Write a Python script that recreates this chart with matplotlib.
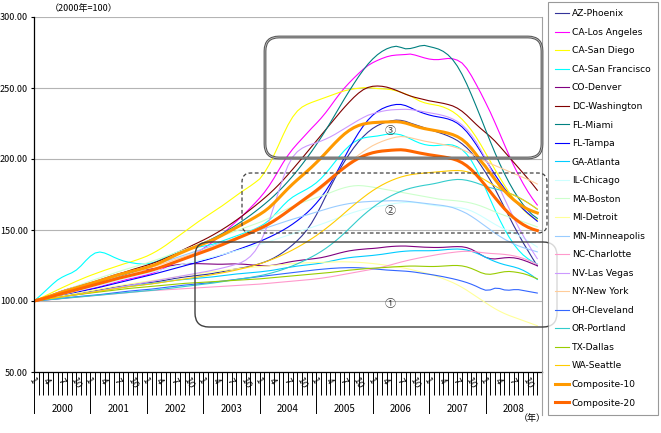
import matplotlib
matplotlib.use('Agg')
import matplotlib.pyplot as plt
import matplotlib.transforms as mtransforms
from matplotlib.patches import FancyBboxPatch
from matplotlib.lines import Line2D

plt.rcParams['font.family'] = ['Noto Sans CJK JP', 'DejaVu Sans']

# categories
years = [2000, 2001, 2002, 2003, 2004, 2005, 2006, 2007, 2008]
month_labels = ['1', '4', '7', '10']
y_ticks = [50, 100, 150, 200, 250, 300]

# monthly index values, 2000-01 = 100
az_phoenix = [
    100.0, 100.6, 101.1, 101.7, 102.3, 102.9, 103.5, 104.1, 104.6, 105.1, 105.6, 106.2,
    106.8, 107.3, 107.9, 108.5, 109.1, 109.7, 110.2, 110.7, 111.2, 111.6, 112.0, 112.4,
    112.8, 113.2, 113.6, 114.1, 114.7, 115.3, 115.9, 116.4, 116.9, 117.3, 117.7, 118.1,
    118.5, 118.9, 119.4, 120.0, 120.6, 121.3, 122.0, 122.6, 123.2, 123.8, 124.5, 125.3,
    126.3, 127.4, 128.7, 130.3, 132.2, 134.4, 136.9, 139.6, 142.6, 146.0, 150.0, 154.8,
    160.5, 166.8, 173.6, 180.2, 186.6, 192.6, 198.2, 203.3, 208.0, 212.2, 215.8, 218.9,
    221.5, 223.5, 225.0, 226.1, 226.9, 227.4, 227.2, 226.5, 225.3, 224.2, 223.1, 222.0,
    220.8, 219.8, 218.7, 217.6, 216.3, 214.8, 213.0, 210.7, 207.9, 204.4, 200.3, 195.6,
    190.5, 185.0, 179.0, 172.5, 166.0, 159.5, 153.0, 147.0, 141.0, 135.5, 130.0, 124.8,
]
ca_los_angeles = [
    100.0, 100.6, 101.3, 102.0, 102.8, 103.6, 104.4, 105.2, 105.9, 106.6, 107.3, 108.0,
    108.7, 109.4, 110.2, 111.1, 112.0, 112.9, 113.8, 114.6, 115.4, 116.1, 116.8, 117.6,
    118.4, 119.4, 120.6, 122.0, 123.6, 125.3, 127.0, 128.6, 130.1, 131.6, 133.1, 134.8,
    137.0, 139.2, 141.6, 144.2, 147.0, 150.0, 153.0, 156.0, 159.0, 162.2, 165.6, 169.0,
    172.6, 176.6, 181.2, 186.4, 192.0, 197.6, 202.6, 207.0, 210.8, 214.4, 218.0, 221.6,
    225.0, 228.6, 232.6, 237.0, 241.6, 246.0, 250.0, 253.6, 257.0, 260.2, 263.2, 265.8,
    267.8, 269.4, 270.8, 272.0, 272.8, 273.2, 273.4, 273.6, 273.9, 273.2, 272.2, 271.2,
    270.4, 270.0, 270.0, 270.4, 270.8, 270.6, 269.6, 267.6, 263.8, 258.6, 252.6, 246.4,
    239.8, 233.0, 225.6, 218.0, 210.2, 202.6, 195.4, 188.8, 182.6, 177.0, 172.0, 167.6,
]
ca_san_diego = [
    100.0, 101.4, 103.0, 104.6, 106.2, 107.8, 109.4, 110.9, 112.4, 113.9, 115.3, 116.7,
    118.0, 119.2, 120.4, 121.6, 122.7, 123.8, 124.9, 126.0, 127.0, 128.0, 129.1, 130.3,
    131.6, 133.2, 135.0, 137.0, 139.2, 141.6, 144.0, 146.4, 148.8, 151.2, 153.6, 156.0,
    158.2, 160.4, 162.6, 164.8, 167.0, 169.4, 171.8, 174.2, 176.6, 178.8, 181.0, 183.4,
    186.0, 190.4, 196.0, 202.6, 209.8, 217.2, 224.0, 229.6, 233.8, 236.6, 238.4, 239.8,
    241.0, 242.2, 243.4, 244.6, 245.8, 247.0, 248.0, 248.8, 249.4, 249.8, 250.2, 250.3,
    250.0, 249.6, 249.4, 249.2, 248.8, 248.0, 247.0, 245.8, 244.4, 242.6, 240.8, 239.6,
    238.8, 238.2, 237.6, 236.6, 235.2, 233.4, 231.0, 228.0, 224.4, 220.2, 215.4, 210.0,
    204.2, 198.4, 192.6, 187.0, 181.6, 176.6, 172.0, 168.0, 164.4, 161.2, 158.8, 157.0,
]
ca_san_francisco = [
    100.0, 102.8, 105.8, 108.9, 112.0, 114.8, 116.8, 118.4, 119.8, 121.8, 124.8, 128.4,
    131.6, 133.8, 134.5, 133.8, 132.4, 130.8, 129.4, 128.2, 127.4, 126.8, 126.3, 126.0,
    126.2, 126.8, 127.8, 129.2, 130.8, 132.4, 133.8, 135.0, 136.0, 136.8, 137.4, 138.0,
    138.6, 139.2, 140.0, 141.0, 142.2, 143.4, 144.6, 145.8, 147.0, 148.2, 149.4, 150.8,
    152.4, 154.4, 157.0, 160.2, 163.8, 167.4, 170.6, 173.2, 175.2, 177.0, 178.8, 180.8,
    183.2, 186.2, 189.8, 193.8, 198.0, 202.2, 206.0, 209.2, 211.8, 213.6, 214.8, 215.4,
    215.8, 216.2, 216.8, 217.4, 217.8, 217.6, 217.0, 215.8, 214.2, 212.6, 211.2, 210.2,
    209.6, 209.4, 209.6, 210.0, 210.2, 209.8, 208.6, 206.6, 203.4, 198.8, 193.0, 186.4,
    179.2, 171.6, 164.2, 157.2, 150.8, 145.0, 140.0, 135.8, 132.4, 129.8, 127.6, 126.0,
]
co_denver = [
    100.0, 101.0, 102.1, 103.3, 104.6, 105.9, 107.1, 108.2, 109.2, 110.1, 111.0, 111.9,
    112.8, 113.8, 114.9, 116.0, 117.1, 118.2, 119.2, 120.0, 120.6, 121.1, 121.5, 121.9,
    122.2, 122.6, 123.1, 123.6, 124.2, 124.8, 125.3, 125.7, 126.0, 126.2, 126.3, 126.3,
    126.2, 126.1, 126.0, 125.9, 125.9, 126.0, 126.1, 126.1, 126.0, 125.8, 125.5, 125.2,
    124.9, 124.8, 124.9, 125.3, 125.9, 126.6, 127.3, 127.9, 128.4, 128.8, 129.2, 129.6,
    130.0, 130.5, 131.2, 132.0, 132.9, 133.8, 134.6, 135.3, 135.8, 136.2, 136.5, 136.8,
    137.0, 137.3, 137.7, 138.1, 138.4, 138.6, 138.7, 138.7, 138.5, 138.3, 138.1, 137.9,
    137.8, 137.7, 137.7, 137.8, 138.0, 138.2, 138.3, 138.2, 137.6, 136.4, 134.6, 132.6,
    130.8, 129.8, 129.6, 130.0, 130.4, 130.6, 130.4, 129.8, 128.8, 127.6, 126.2, 124.8,
]
dc_washington = [
    100.0, 100.8, 101.6, 102.5, 103.5, 104.5, 105.5, 106.5, 107.5, 108.5, 109.5, 110.5,
    111.5, 112.6, 113.8, 115.0, 116.3, 117.6, 118.8, 120.0, 121.1, 122.2, 123.2, 124.2,
    125.2, 126.3, 127.5, 128.8, 130.2, 131.7, 133.3, 134.9, 136.5, 138.1, 139.7, 141.3,
    142.9, 144.6, 146.4, 148.3, 150.3, 152.4, 154.6, 156.9, 159.3, 161.8, 164.4, 167.0,
    169.7, 172.5, 175.4, 178.5, 181.8, 185.3, 189.0, 192.8, 196.7, 200.6, 204.6, 208.6,
    212.6, 216.6, 220.6, 224.6, 228.6, 232.6, 236.4, 240.0, 243.4, 246.4, 248.8, 250.4,
    251.2, 251.4, 251.2, 250.6, 249.6, 248.4, 247.0, 245.6, 244.4, 243.4, 242.6, 241.8,
    241.0, 240.4, 239.8, 239.2, 238.4, 237.4, 235.8, 233.6, 230.8, 227.6, 224.4, 221.4,
    218.6, 215.8, 212.6, 209.0, 205.2, 201.4, 197.6, 193.8, 190.0, 186.2, 182.2, 178.0,
]
fl_miami = [
    100.0, 100.7, 101.5, 102.3, 103.2, 104.1, 105.0, 105.9, 106.8, 107.7, 108.6, 109.5,
    110.4, 111.4, 112.5, 113.6, 114.7, 115.8, 116.9, 118.0, 119.1, 120.2, 121.3, 122.4,
    123.5, 124.7, 126.0, 127.4, 128.9, 130.4, 131.9, 133.4, 134.9, 136.4, 137.9, 139.4,
    140.9, 142.4, 144.0, 145.7, 147.5, 149.4, 151.4, 153.5, 155.7, 158.0, 160.4, 162.9,
    165.5, 168.2, 171.0, 174.0, 177.2, 180.6, 184.2, 188.0, 192.0, 196.2, 200.6, 205.2,
    210.0, 215.0, 220.2, 225.6, 231.2, 236.8, 242.4, 247.8, 253.0, 258.0, 262.6, 266.8,
    270.4, 273.4, 275.8, 277.6, 278.8, 279.4, 278.6, 277.6, 277.8, 278.6, 279.6, 280.0,
    279.2, 278.4, 277.4, 275.8, 273.4, 270.0, 265.4, 259.6, 252.8, 245.2, 237.2, 229.0,
    220.6, 212.4, 204.4, 196.8, 189.8, 183.4, 177.6, 172.4, 167.8, 163.8, 160.6, 158.2,
]
fl_tampa = [
    100.0, 100.6, 101.2, 101.9, 102.6, 103.3, 104.0, 104.7, 105.4, 106.1, 106.8, 107.5,
    108.2, 108.9, 109.7, 110.5, 111.3, 112.1, 112.9, 113.7, 114.5, 115.3, 116.1, 116.9,
    117.7, 118.5, 119.4, 120.3, 121.2, 122.1, 123.0, 123.9, 124.8, 125.7, 126.6, 127.5,
    128.4, 129.3, 130.3, 131.3, 132.4, 133.5, 134.6, 135.8, 137.0, 138.2, 139.4, 140.7,
    142.0, 143.4, 144.9, 146.5, 148.2, 150.0, 152.0, 154.2, 156.6, 159.2, 162.0, 165.2,
    168.8, 172.8, 177.4, 182.6, 188.4, 194.6, 201.0, 207.2, 213.0, 218.4, 223.2, 227.4,
    230.8, 233.4, 235.4, 236.8, 237.8, 238.4, 238.4, 237.6, 236.2, 234.6, 233.2, 232.0,
    231.0, 230.2, 229.6, 229.0, 228.2, 227.0, 225.2, 222.6, 219.2, 215.0, 210.2, 205.0,
    199.6, 194.2, 189.0, 184.0, 179.4, 175.2, 171.4, 168.0, 164.8, 161.8, 159.0, 156.2,
]
ga_atlanta = [
    100.0, 100.4, 100.9, 101.4, 101.9, 102.4, 102.9, 103.4, 103.9, 104.4, 104.9, 105.4,
    105.9, 106.4, 106.9, 107.5, 108.1, 108.7, 109.2, 109.7, 110.2, 110.6, 111.0, 111.4,
    111.8, 112.2, 112.6, 113.1, 113.6, 114.1, 114.5, 114.9, 115.2, 115.5, 115.8, 116.1,
    116.4, 116.7, 117.0, 117.4, 117.8, 118.2, 118.6, 119.0, 119.3, 119.6, 119.9, 120.2,
    120.5, 120.9, 121.3, 121.8, 122.4, 123.0, 123.6, 124.1, 124.6, 125.0, 125.4, 125.8,
    126.2, 126.7, 127.3, 128.0, 128.7, 129.4, 130.0, 130.5, 130.9, 131.2, 131.5, 131.8,
    132.1, 132.5, 132.9, 133.4, 133.9, 134.4, 134.8, 135.1, 135.3, 135.4, 135.4, 135.4,
    135.4, 135.5, 135.7, 136.0, 136.3, 136.5, 136.6, 136.4, 135.9, 135.0, 133.8, 132.4,
    130.8, 129.2, 127.8, 126.6, 125.6, 124.8, 124.0, 123.0, 121.6, 119.8, 117.6, 115.2,
]
il_chicago = [
    100.0, 100.6, 101.3, 102.1, 102.9, 103.7, 104.5, 105.3, 106.1, 106.9, 107.7, 108.5,
    109.3, 110.1, 110.9, 111.8, 112.7, 113.6, 114.5, 115.4, 116.2, 117.0, 117.8, 118.6,
    119.4, 120.2, 121.0, 121.8, 122.7, 123.6, 124.5, 125.3, 126.1, 126.9, 127.7, 128.5,
    129.3, 130.1, 130.9, 131.8, 132.7, 133.6, 134.5, 135.4, 136.3, 137.2, 138.1, 139.0,
    139.9, 140.9, 141.9, 143.0, 144.1, 145.2, 146.3, 147.4, 148.5, 149.6, 150.7, 151.8,
    152.9, 154.0, 155.2, 156.4, 157.7, 159.0, 160.2, 161.4, 162.5, 163.5, 164.4, 165.2,
    165.9, 166.5, 167.1, 167.7, 168.3, 168.8, 169.2, 169.4, 169.5, 169.3, 168.9, 168.4,
    167.8, 167.3, 166.9, 166.6, 166.4, 166.2, 165.9, 165.4, 164.6, 163.4, 161.8, 160.0,
    158.0, 156.0, 154.0, 152.2, 150.6, 149.2, 147.8, 146.2, 144.4, 142.4, 140.2, 138.0,
]
ma_boston = [
    100.0, 101.0, 102.1, 103.3, 104.5, 105.7, 106.9, 108.1, 109.3, 110.5, 111.7, 112.9,
    114.1, 115.2, 116.3, 117.4, 118.5, 119.6, 120.7, 121.8, 122.8, 123.8, 124.8, 125.8,
    126.8, 127.9, 129.0, 130.2, 131.4, 132.6, 133.8, 135.0, 136.2, 137.4, 138.6, 139.8,
    141.0, 142.2, 143.4, 144.6, 145.8, 147.0, 148.2, 149.4, 150.6, 151.8, 153.0, 154.2,
    155.4, 156.8, 158.4, 160.1, 161.8, 163.5, 165.1, 166.6, 168.0, 169.3, 170.5, 171.6,
    172.7, 173.8, 175.0, 176.3, 177.6, 178.8, 179.8, 180.6, 181.1, 181.3, 181.1, 180.7,
    180.2, 179.6, 179.0, 178.4, 177.8, 177.2, 176.6, 176.0, 175.4, 174.8, 174.2, 173.6,
    173.0, 172.4, 171.8, 171.4, 171.1, 170.8, 170.5, 170.1, 169.6, 168.9, 168.0, 166.9,
    165.6, 164.2, 162.8, 161.5, 160.3, 159.2, 158.1, 157.0, 155.8, 154.6, 153.4, 152.2,
]
mi_detroit = [
    100.0, 100.6, 101.2, 101.8, 102.4, 103.0, 103.6, 104.2, 104.8, 105.4, 106.0, 106.6,
    107.2, 107.8, 108.4, 109.0, 109.6, 110.2, 110.8, 111.3, 111.8, 112.3, 112.8, 113.3,
    113.8, 114.3, 114.8, 115.3, 115.8, 116.3, 116.8, 117.3, 117.8, 118.3, 118.8, 119.3,
    119.8, 120.2, 120.6, 121.0, 121.4, 121.8, 122.2, 122.6, 123.0, 123.3, 123.6, 123.9,
    124.2, 124.5, 124.8, 125.1, 125.4, 125.7, 126.0, 126.3, 126.5, 126.7, 126.9, 127.0,
    127.1, 127.2, 127.3, 127.4, 127.5, 127.6, 127.6, 127.5, 127.4, 127.2, 127.0, 126.7,
    126.4, 126.0, 125.6, 125.1, 124.6, 124.1, 123.6, 123.0, 122.3, 121.5, 120.7, 119.9,
    119.0, 118.0, 116.9, 115.7, 114.4, 113.0, 111.4, 109.6, 107.6, 105.4, 103.2, 101.0,
    98.8, 96.6, 94.6, 92.8, 91.2, 89.8, 88.6, 87.4, 86.2, 85.0, 83.8, 82.6,
]
mn_minneapolis = [
    100.0, 100.9, 101.8, 102.8, 103.8, 104.8, 105.8, 106.8, 107.8, 108.8, 109.8, 110.8,
    111.8, 112.8, 113.8, 114.8, 115.8, 116.8, 117.8, 118.8, 119.8, 120.8, 121.8, 122.8,
    123.8, 124.8, 125.8, 126.9, 128.0, 129.1, 130.2, 131.3, 132.4, 133.5, 134.6, 135.7,
    136.8, 137.9, 139.0, 140.1, 141.2, 142.3, 143.4, 144.5, 145.6, 146.7, 147.8, 148.9,
    150.0, 151.1, 152.2, 153.3, 154.4, 155.5, 156.6, 157.6, 158.6, 159.6, 160.6, 161.6,
    162.6, 163.6, 164.6, 165.6, 166.5, 167.3, 168.0, 168.6, 169.1, 169.5, 169.8, 170.0,
    170.2, 170.3, 170.4, 170.5, 170.6, 170.6, 170.5, 170.3, 170.0, 169.6, 169.2, 168.8,
    168.4, 168.0, 167.6, 167.2, 166.6, 165.8, 164.6, 163.2, 161.6, 159.6, 157.4, 155.0,
    152.6, 150.2, 147.8, 145.6, 143.6, 141.8, 140.2, 138.8, 137.6, 136.6, 135.6, 134.6,
]
nc_charlotte = [
    100.0, 100.2, 100.5, 100.8, 101.1, 101.4, 101.7, 102.0, 102.3, 102.6, 102.9, 103.2,
    103.5, 103.8, 104.1, 104.4, 104.7, 105.0, 105.3, 105.6, 105.9, 106.2, 106.5, 106.8,
    107.1, 107.3, 107.5, 107.7, 107.9, 108.1, 108.3, 108.5, 108.7, 108.9, 109.1, 109.3,
    109.5, 109.7, 109.9, 110.1, 110.3, 110.5, 110.7, 110.9, 111.1, 111.3, 111.5, 111.7,
    111.9, 112.2, 112.5, 112.8, 113.1, 113.4, 113.7, 114.0, 114.3, 114.6, 114.9, 115.2,
    115.6, 116.0, 116.5, 117.0, 117.6, 118.2, 118.8, 119.4, 120.0, 120.6, 121.2, 121.8,
    122.4, 123.1, 123.9, 124.7, 125.6, 126.5, 127.4, 128.2, 129.0, 129.7, 130.4, 131.0,
    131.6, 132.2, 132.8, 133.3, 133.8, 134.2, 134.6, 134.9, 135.0, 134.9, 134.6, 134.2,
    133.8, 133.5, 133.3, 133.1, 132.8, 132.4, 131.8, 131.0, 130.0, 128.8, 127.4, 125.8,
]
nv_las_vegas = [
    100.0, 100.5, 101.0, 101.5, 102.0, 102.5, 103.0, 103.5, 104.0, 104.5, 105.0, 105.5,
    106.0, 106.6, 107.2, 107.8, 108.4, 109.0, 109.6, 110.2, 110.8, 111.4, 112.0, 112.6,
    113.2, 113.8, 114.4, 115.0, 115.6, 116.2, 116.8, 117.4, 118.0, 118.6, 119.2, 119.8,
    120.4, 121.0, 121.7, 122.4, 123.2, 124.0, 124.9, 125.9, 127.0, 128.8, 131.4, 135.2,
    140.6, 147.8, 156.6, 166.6, 177.0, 187.0, 195.4, 201.4, 205.2, 207.6, 209.2, 210.4,
    211.4, 212.6, 214.0, 215.6, 217.4, 219.4, 221.4, 223.4, 225.4, 227.4, 229.2, 230.8,
    231.9, 232.8, 233.6, 234.2, 234.6, 234.8, 234.9, 235.0, 234.8, 234.4, 233.8, 233.2,
    232.6, 232.0, 231.4, 230.6, 229.6, 228.2, 226.4, 224.0, 220.8, 216.8, 212.0, 206.4,
    200.2, 193.6, 186.6, 179.4, 172.2, 165.2, 158.4, 152.0, 146.0, 140.4, 135.0, 129.8,
]
ny_new_york = [
    100.0, 100.8, 101.6, 102.5, 103.4, 104.3, 105.2, 106.1, 107.0, 107.9, 108.8, 109.7,
    110.6, 111.6, 112.6, 113.6, 114.6, 115.6, 116.6, 117.6, 118.6, 119.6, 120.6, 121.6,
    122.6, 123.6, 124.7, 125.8, 126.9, 128.0, 129.1, 130.2, 131.3, 132.4, 133.5, 134.6,
    135.7, 136.9, 138.1, 139.4, 140.7, 142.0, 143.3, 144.7, 146.1, 147.5, 148.9, 150.4,
    151.9, 153.5, 155.2, 157.0, 158.9, 160.9, 163.0, 165.2, 167.4, 169.6, 171.8, 174.0,
    176.4, 179.0, 181.8, 184.8, 188.0, 191.2, 194.4, 197.4, 200.2, 202.8, 205.2, 207.4,
    209.4, 211.0, 212.4, 213.6, 214.6, 215.4, 215.8, 215.6, 215.0, 214.2, 213.4, 212.6,
    212.0, 211.4, 210.8, 210.2, 209.6, 208.8, 207.8, 206.6, 205.2, 203.6, 201.8, 200.0,
    198.4, 196.8, 195.4, 194.0, 192.6, 191.2, 189.8, 188.4, 187.0, 185.6, 184.0, 182.4,
]
oh_cleveland = [
    100.0, 100.3, 100.6, 100.9, 101.2, 101.5, 101.9, 102.3, 102.7, 103.0, 103.3, 103.6,
    103.9, 104.2, 104.5, 104.9, 105.3, 105.7, 106.1, 106.5, 106.9, 107.2, 107.5, 107.8,
    108.1, 108.4, 108.8, 109.2, 109.6, 110.0, 110.4, 110.8, 111.2, 111.5, 111.8, 112.1,
    112.4, 112.8, 113.2, 113.6, 114.0, 114.4, 114.8, 115.2, 115.6, 116.0, 116.4, 116.8,
    117.2, 117.6, 118.0, 118.4, 118.8, 119.2, 119.6, 120.0, 120.4, 120.8, 121.2, 121.6,
    122.0, 122.3, 122.6, 122.9, 123.1, 123.3, 123.4, 123.5, 123.5, 123.4, 123.2, 123.0,
    122.7, 122.4, 122.1, 121.8, 121.6, 121.4, 121.2, 121.0, 120.7, 120.3, 119.8, 119.3,
    118.8, 118.3, 117.7, 117.1, 116.4, 115.7, 114.9, 114.0, 113.0, 111.8, 110.4, 108.8,
    107.6, 107.8, 109.0, 108.8, 107.8, 107.6, 108.0, 108.0, 107.4, 106.8, 106.2, 105.6,
]
or_portland = [
    100.0, 100.3, 100.6, 100.9, 101.2, 101.5, 101.8, 102.1, 102.4, 102.7, 103.0, 103.3,
    103.6, 103.9, 104.2, 104.5, 104.8, 105.1, 105.4, 105.7, 106.0, 106.3, 106.6, 106.9,
    107.2, 107.5, 107.8, 108.2, 108.6, 109.0, 109.4, 109.8, 110.2, 110.6, 111.0, 111.4,
    111.8, 112.2, 112.6, 113.1, 113.6, 114.1, 114.6, 115.1, 115.6, 116.1, 116.6, 117.2,
    117.8, 118.5, 119.3, 120.2, 121.2, 122.3, 123.5, 124.8, 126.2, 127.7, 129.3, 131.0,
    132.8, 134.8, 137.0, 139.4, 142.0, 144.8, 147.8, 151.0, 154.2, 157.4, 160.4, 163.2,
    165.8, 168.2, 170.4, 172.4, 174.2, 175.8, 177.2, 178.4, 179.4, 180.2, 180.9, 181.5,
    182.0, 182.6, 183.3, 184.1, 184.8, 185.3, 185.6, 185.5, 185.0, 184.2, 183.2, 182.0,
    180.8, 179.8, 179.0, 178.2, 177.2, 176.0, 174.6, 173.0, 171.2, 169.2, 167.0, 164.6,
]
tx_dallas = [
    100.0, 100.5, 101.0, 101.5, 102.0, 102.5, 103.0, 103.5, 104.0, 104.4, 104.8, 105.2,
    105.6, 106.0, 106.4, 106.8, 107.2, 107.6, 108.0, 108.4, 108.8, 109.1, 109.4, 109.7,
    110.0, 110.3, 110.6, 110.9, 111.2, 111.5, 111.8, 112.1, 112.4, 112.6, 112.8, 113.0,
    113.2, 113.4, 113.6, 113.8, 114.0, 114.2, 114.4, 114.6, 114.8, 115.0, 115.2, 115.4,
    115.6, 115.9, 116.2, 116.5, 116.8, 117.1, 117.4, 117.7, 118.0, 118.3, 118.6, 118.9,
    119.2, 119.5, 119.8, 120.1, 120.5, 120.9, 121.3, 121.7, 122.0, 122.3, 122.6, 122.9,
    123.1, 123.3, 123.5, 123.7, 123.9, 124.1, 124.3, 124.5, 124.6, 124.6, 124.5, 124.4,
    124.3, 124.3, 124.4, 124.6, 124.8, 125.0, 125.0, 124.7, 124.0, 122.9, 121.5, 120.0,
    119.0, 118.8, 119.3, 120.0, 120.6, 120.8, 120.5, 120.0, 119.3, 118.3, 117.0, 115.6,
]
wa_seattle = [
    100.0, 100.5, 101.0, 101.5, 102.0, 102.5, 103.0, 103.5, 104.0, 104.5, 105.0, 105.5,
    106.0, 106.5, 107.0, 107.5, 108.0, 108.5, 109.0, 109.5, 110.0, 110.4, 110.8, 111.2,
    111.6, 112.0, 112.5, 113.0, 113.5, 114.0, 114.5, 115.0, 115.5, 116.0, 116.5, 117.0,
    117.5, 118.0, 118.6, 119.2, 119.8, 120.4, 121.1, 121.8, 122.6, 123.4, 124.3, 125.2,
    126.2, 127.3, 128.5, 129.8, 131.2, 132.7, 134.3, 136.0, 137.8, 139.7, 141.7, 143.8,
    146.0, 148.4, 150.9, 153.5, 156.2, 159.0, 161.9, 164.8, 167.6, 170.3, 172.9, 175.4,
    177.7, 179.8, 181.7, 183.4, 184.9, 186.2, 187.3, 188.2, 188.9, 189.4, 189.8, 190.1,
    190.4, 190.7, 191.0, 191.3, 191.6, 191.8, 191.9, 191.7, 191.1, 190.1, 188.7, 187.0,
    185.0, 183.0, 181.0, 179.0, 177.4, 176.0, 174.6, 173.0, 171.2, 169.2, 167.0, 164.8,
]
composite_10 = [
    100.0, 100.9, 101.9, 103.0, 104.1, 105.2, 106.3, 107.3, 108.3, 109.3, 110.3, 111.3,
    112.3, 113.3, 114.3, 115.3, 116.4, 117.5, 118.5, 119.4, 120.3, 121.1, 121.9, 122.8,
    123.7, 124.7, 125.9, 127.3, 128.9, 130.5, 132.1, 133.6, 135.0, 136.4, 137.7, 139.0,
    140.3, 141.6, 143.0, 144.6, 146.3, 148.1, 149.9, 151.7, 153.5, 155.3, 157.1, 159.0,
    161.0, 163.2, 165.8, 168.9, 172.3, 175.8, 179.2, 182.4, 185.4, 188.3, 191.2, 194.2,
    197.4, 200.7, 204.2, 207.8, 211.3, 214.6, 217.6, 220.1, 222.1, 223.6, 224.6, 225.2,
    225.6, 225.8, 226.0, 226.1, 226.2, 226.3, 226.0, 225.3, 224.3, 223.2, 222.2, 221.4,
    220.8, 220.2, 219.6, 219.0, 218.2, 217.2, 215.8, 213.8, 211.0, 207.4, 203.2, 198.6,
    194.6, 190.0, 185.6, 181.4, 177.6, 174.2, 171.2, 168.6, 166.4, 164.6, 163.2, 162.0,
]
composite_20 = [
    100.0, 100.8, 101.6, 102.5, 103.4, 104.3, 105.2, 106.1, 107.0, 107.9, 108.8, 109.7,
    110.6, 111.5, 112.4, 113.3, 114.2, 115.1, 116.0, 116.8, 117.6, 118.4, 119.2, 120.0,
    120.8, 121.7, 122.7, 123.8, 125.0, 126.2, 127.4, 128.6, 129.8, 131.0, 132.2, 133.4,
    134.6, 135.8, 137.0, 138.3, 139.6, 141.0, 142.4, 143.8, 145.2, 146.6, 148.0, 149.5,
    151.0, 152.6, 154.4, 156.4, 158.6, 160.9, 163.3, 165.7, 168.1, 170.5, 172.9, 175.3,
    177.8, 180.4, 183.1, 185.9, 188.7, 191.4, 194.0, 196.4, 198.6, 200.5, 202.1, 203.4,
    204.4, 205.1, 205.6, 205.9, 206.2, 206.4, 206.5, 206.2, 205.6, 204.9, 204.2, 203.6,
    203.0, 202.5, 202.0, 201.5, 200.9, 200.1, 199.0, 197.4, 195.2, 192.4, 189.0, 185.2,
    181.2, 177.0, 172.8, 168.8, 165.0, 161.6, 158.6, 156.0, 153.8, 152.0, 150.6, 149.6,
]

names = ['AZ-Phoenix', 'CA-Los Angeles', 'CA-San Diego', 'CA-San Francisco',
         'CO-Denver', 'DC-Washington', 'FL-Miami', 'FL-Tampa', 'GA-Atlanta',
         'IL-Chicago', 'MA-Boston', 'MI-Detroit', 'MN-Minneapolis', 'NC-Charlotte',
         'NV-Las Vegas', 'NY-New York', 'OH-Cleveland', 'OR-Portland', 'TX-Dallas',
         'WA-Seattle', 'Composite-10', 'Composite-20']
series = [az_phoenix, ca_los_angeles, ca_san_diego, ca_san_francisco, co_denver,
          dc_washington, fl_miami, fl_tampa, ga_atlanta, il_chicago, ma_boston,
          mi_detroit, mn_minneapolis, nc_charlotte, nv_las_vegas, ny_new_york,
          oh_cleveland, or_portland, tx_dallas, wa_seattle, composite_10, composite_20]
colors = ['#333399', '#FF00FF', '#FFFF00', '#00FFFF', '#800080', '#800000',
          '#008080', '#0000FF', '#00CCFF', '#CCFFFF', '#CCFFCC', '#FFFF99',
          '#99CCFF', '#FF99CC', '#CC99FF', '#FFCC99', '#3366FF', '#33CCCC',
          '#99CC00', '#FFCC00', '#FF9900', '#FF6600']

W, H = 661, 433
fig = plt.figure(figsize=(W / 100, H / 100), dpi=100)
ax = fig.add_axes([34 / W, 1 - 372 / H, 508 / W, 355 / H])

n = len(az_phoenix)
x = list(range(n))
handles = []
for name, vals, c in zip(names, series, colors):
    lw = 2.2 if name.startswith('Composite') else 0.8
    line, = ax.plot(x, vals, color=c, lw=lw, label=name)
    handles.append(line)

ax.set_xlim(0, n)
ax.set_ylim(50, 300)
ax.set_yticks(y_ticks)
ax.set_yticklabels(['%.2f' % v for v in y_ticks], fontsize=6.5)
ax.yaxis.grid(True, color='#b4b4b4', lw=0.8)
ax.set_axisbelow(True)
ax.tick_params(axis='y', length=2.5, width=0.8, pad=2)
ax.spines['top'].set_visible(False)
ax.spines['right'].set_color('#a0a0a0')
ax.spines['left'].set_linewidth(0.9)
ax.spines['bottom'].set_linewidth(0.9)

# month ticks (every month) and labels for 1,4,7,10
ax.set_xticks(x)
ax.set_xticklabels([])
ax.tick_params(axis='x', direction='out', length=16.5, width=0.7)
blend = mtransforms.blended_transform_factory(ax.transData, ax.transAxes)
ah = 355.0
for yi, yr in enumerate(years):
    for mi, lab in zip([0, 3, 6, 9], month_labels):
        ax.text(yi * 12 + mi + 0.2, -4 / ah, lab, transform=blend, rotation=-60,
                rotation_mode='anchor', ha='left', va='top', fontsize=6.5,
                family='DejaVu Sans')
    ax.text(yi * 12 + 6, -37 / ah, str(yr), transform=blend, ha='center',
            va='center', fontsize=7)
    ax.plot([yi * 12, yi * 12], [0, -41 / ah], transform=blend, color='black',
            lw=0.7, clip_on=False)

fig.add_artist(Line2D([542 / W, 542 / W], [1 - 415 / H, 1 - 372 / H],
                      transform=fig.transFigure, color='#a0a0a0', lw=0.8))

fig.text(50 / W, 1 - 8 / H, '（2000年=100）', fontsize=6.5, va='center')
fig.text(532 / W, 1 - 418 / H, '（年）', fontsize=6.5, ha='center', va='center')


def rbox(x0, y0, x1, y1, r, **kw):
    p = FancyBboxPatch((x0 / 100, (H - y1) / 100), (x1 - x0) / 100, (y1 - y0) / 100,
                       boxstyle='round,pad=0,rounding_size=%f' % (r / 100),
                       transform=fig.dpi_scale_trans, fill=False, **kw)
    fig.add_artist(p)


rbox(265, 37, 542, 158, 14, lw=2.0, edgecolor='#505050')
rbox(265, 37, 542, 158, 14, lw=0.6, edgecolor='#c0c0c0')
rbox(242, 173, 547, 233, 9, lw=0.9, edgecolor='#404040', linestyle=(0, (3, 2)))
rbox(195, 242, 557, 327, 14, lw=1.0, edgecolor='#404040')

for lab, yy in [('③', 131), ('②', 211), ('①', 304)]:
    fig.text(390 / W, 1 - yy / H, lab, fontsize=8, ha='center', va='center',
             color='#404040')

leg = fig.legend(handles, names, loc='upper left',
                 bbox_to_anchor=(548 / W, 1 - 2 / H),
                 prop={'family': 'DejaVu Sans', 'size': 6.6},
                 frameon=True, fancybox=False, edgecolor='#808080',
                 borderaxespad=0, handlelength=1.5, handletextpad=0.3,
                 labelspacing=1.04, borderpad=0.8)
leg.get_frame().set_linewidth(0.8)

fig.savefig('out.png', dpi=100)
